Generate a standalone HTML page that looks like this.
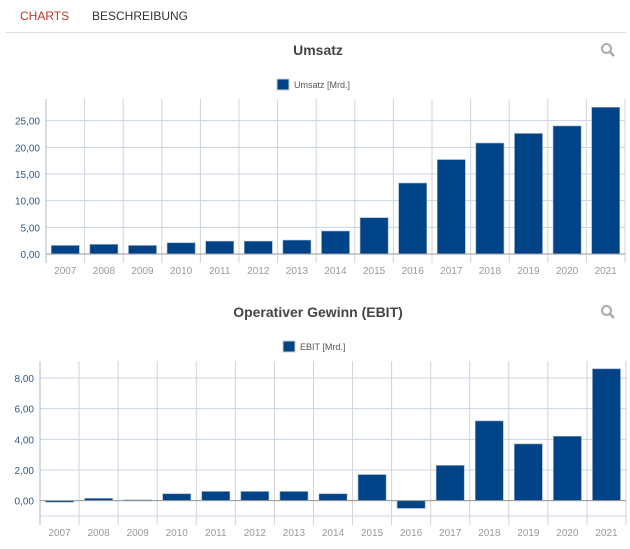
<!DOCTYPE html>
<html><head><meta charset="utf-8"><style>
body{margin:0;width:630px;height:549px;background:#fff;font-family:"Liberation Sans",sans-serif;overflow:hidden;position:relative}
.tab{position:absolute;top:9px;font-size:12px;font-family:"Liberation Sans",sans-serif}
</style></head><body>
<div class="tab" style="left:20px;color:#c0392b">CHARTS</div>
<div class="tab" style="left:92px;color:#333">BESCHREIBUNG</div>
<div style="position:absolute;left:6px;top:32px;width:620px;height:1px;background:#ddd"></div>
<svg id="svg" width="630" height="549" style="position:absolute;left:0;top:0"></svg>
<script>
const years=["2007","2008","2009","2010","2011","2012","2013","2014","2015","2016","2017","2018","2019","2020","2021"];
const umsatz=[1.6,1.8,1.6,2.1,2.4,2.4,2.6,4.3,6.8,13.3,17.7,20.8,22.6,24.0,27.5];
const ebit=[-0.1,0.15,0.05,0.45,0.6,0.6,0.6,0.45,1.7,-0.5,2.3,5.2,3.7,4.2,8.6];
const umsatzTicks=[0,5,10,15,20,25];
const ebitTicks=[0,2,4,6,8];
const NS="http://www.w3.org/2000/svg";
const svg=document.getElementById('svg');
function mk(t,a,p){const e=document.createElementNS(NS,t);for(const k in a)e.setAttribute(k,a[k]);(p||svg).appendChild(e);return e;}
function fmt(v){return v.toFixed(2).replace('.',',');}
function chart(o){
  const g=mk('g',{});
  
  
  const t=mk('text',{x:318,y:o.titleY,'text-anchor':'middle','font-size':14,'font-weight':'bold',fill:'#444'},g);t.textContent=o.title;
  
  const s=mk('g',{transform:`translate(608,${o.titleY-5})`},g);
  
  mk('circle',{cx:-1.5,cy:-1.5,r:4.5,fill:'none',stroke:'#aaa','stroke-width':2},s);
  mk('line',{x1:2,y1:2,x2:6,y2:6,stroke:'#aaa','stroke-width':2.5},s);
  const lg=mk('g',{},g);
  mk('rect',{x:o.legX,y:o.legY,width:12,height:11,fill:'#004386',stroke:'#ccc','stroke-width':1},lg);
  const lt=mk('text',{x:o.legX+17,y:o.legY+9,'font-size':9,fill:'#555'},lg);lt.textContent=o.legend;
  const y=v=>o.y0-(v-o.min)/(o.max-o.min)*(o.y0-o.yTop);
  const step=(o.x1-o.x0)/years.length;
  o.ticks.forEach(v=>{
    const l=mk('line',{x1:o.x0,x2:o.x1,y1:y(v),y2:y(v),stroke:'#c8d4e0','stroke-width':1},g);
    
    const tx=mk('text',{x:o.x0-6,y:y(v)+4,'text-anchor':'end','font-size':10,fill:'#2a5a8c'},g);tx.textContent=fmt(v);
    
  });
  if(o.min<0){mk('line',{x1:o.x0,x2:o.x1,y1:o.y0,y2:o.y0,stroke:'#c8d4e0'},g);}
  for(let i=0;i<=years.length;i++){
    const xx=o.x0+i*step;
    mk('line',{x1:xx,x2:xx,y1:o.yTop,y2:o.y0+9,stroke:i==0?'#a8b8c8':'#d0d4da','stroke-width':1},g);
  }
  years.forEach((yr,i)=>{
    const cx=o.x0+(i+0.5)*step;
    const tx=mk('text',{x:cx,y:o.y0+20,'text-anchor':'middle','font-size':10,fill:'#999'},g);tx.textContent=yr;
    
  });
  o.data.forEach((v,i)=>{
    const cx=o.x0+(i+0.5)*step;
    const top=Math.min(y(v),y(0)),h=Math.max(Math.abs(y(v)-y(0)),1);
    const b=mk('rect',{x:cx-14,y:top,width:28,height:h,fill:'#004386',stroke:'#8fa8c8','stroke-width':0.6},g);
    
    
  });
  mk('line',{x1:o.x0,x2:o.x1,y1:y(0),y2:y(0),stroke:'#999','stroke-width':1},g);
}
chart({name:'umsatz-chart',title:'Umsatz',titleY:55,legend:'Umsatz [Mrd.]',legX:277,legY:79,x0:46,x1:625,y0:254,yTop:99,min:0,max:29.06,ticks:umsatzTicks,data:umsatz});
chart({name:'ebit-chart',title:'Operativer Gewinn (EBIT)',titleY:317,legend:'EBIT [Mrd.]',legX:283,legY:341,x0:40,x1:626,y0:516,yTop:361,min:-1,max:9.11,ticks:ebitTicks,data:ebit});
</script>
</body></html>
